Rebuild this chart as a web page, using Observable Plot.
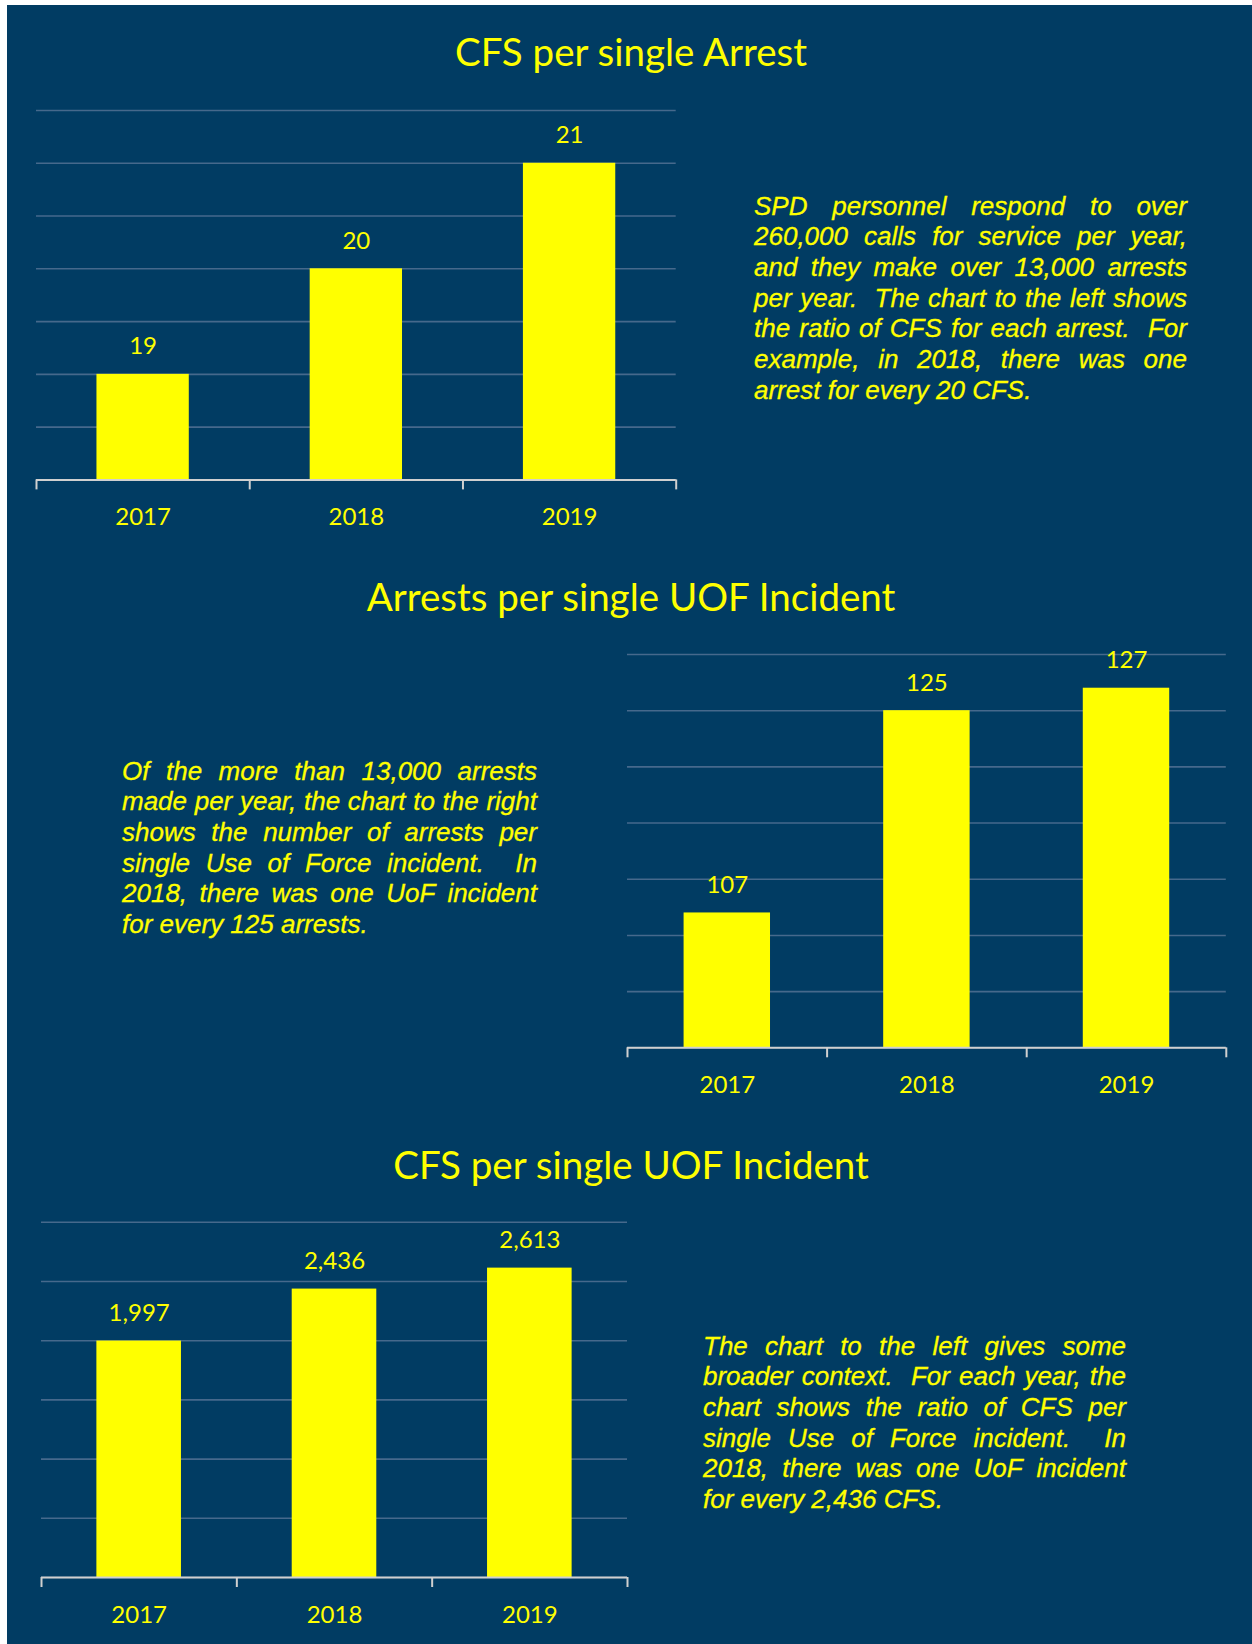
<!DOCTYPE html>
<html><head><meta charset="utf-8">
<script src="https://cdn.jsdelivr.net/npm/d3@7"></script>
<script src="https://cdn.jsdelivr.net/npm/@observablehq/plot@0.6"></script>
<style>
html,body{margin:0;padding:0;background:#ffffff;}
body{width:1252px;height:1644px;position:relative;overflow:hidden;}
#panel{position:absolute;left:7px;top:5px;width:1245px;height:1639px;background:#013c63;}
.title{position:absolute;left:10px;width:1242px;text-align:center;font-family:Lato,sans-serif;font-size:38.5px;line-height:38px;color:#ffff00;white-space:nowrap;}
.para{position:absolute;font-family:"Liberation Sans",Arial,sans-serif;font-style:italic;font-size:26px;line-height:30.7px;color:#ffff00;-webkit-text-stroke:0.3px #ffff00;}
.para div{text-align:justify;text-align-last:justify;}
.para div.last{text-align:left;text-align-last:left;}
.chart{position:absolute;}
</style>
</head><body>
<div id="panel"></div>
<div class="title" style="top:32px">CFS per single Arrest</div>
<div class="title" style="top:577px">Arrests per single UOF Incident</div>
<div class="title" style="top:1145px">CFS per single UOF Incident</div>
<div class="para" id="p1" style="left:754px;top:190.5px;width:433px"></div>
<div class="para" id="p2" style="left:122px;top:755.5px;width:415px"></div>
<div class="para" id="p3" style="left:703px;top:1330.5px;width:423px"></div>
<div class="chart" id="c1" style="left:0px;top:90px"></div>
<div class="chart" id="c2" style="left:600px;top:630px"></div>
<div class="chart" id="c3" style="left:0px;top:1200px"></div>
<script>
// ---- data ----
const years = ["2017", "2018", "2019"];
const cfsPerArrest = [19, 20, 21];
const arrestsPerUof = [107, 125, 127];
const cfsPerUof = [1997, 2436, 2613];
// value axis: [min, max, gridline step]
const cfsPerArrestAxis = [18, 21.5, 0.5];
const arrestsPerUofAxis = [95, 130, 5];
const cfsPerUofAxis = [0, 3000, 500];

const para1 = [
  "SPD personnel respond to over",
  "260,000 calls for service per year,",
  "and they make over 13,000 arrests",
  "per year.\u00a0 The chart to the left shows",
  "the ratio of CFS for each arrest.\u00a0 For",
  "example, in 2018, there was one",
  "arrest for every 20 CFS."
];
const para2 = [
  "Of the more than 13,000 arrests",
  "made per year, the chart to the right",
  "shows the number of arrests per",
  "single Use of Force incident.\u00a0 In",
  "2018, there was one UoF incident",
  "for every 125 arrests."
];
const para3 = [
  "The chart to the left gives some",
  "broader context.\u00a0 For each year, the",
  "chart shows the ratio of CFS per",
  "single Use of Force incident.\u00a0 In",
  "2018, there was one UoF incident",
  "for every 2,436 CFS."
];

const YELLOW = "#ffff00";
const GRID = "#46698c";
const AXIS = "#d0d0d0";
const fmt = d3.format(",");

function fillPara(id, lines) {
  const el = document.getElementById(id);
  lines.forEach((t, i) => {
    const d = document.createElement("div");
    d.textContent = t;
    if (i === lines.length - 1) d.className = "last";
    el.appendChild(d);
  });
}
fillPara("p1", para1);
fillPara("p2", para2);
fillPara("p3", para3);

function drawChart(id, values, axis, width, height, ml, mr, mt, mb) {
  const data = years.map((year, i) => ({year, i, value: values[i]}));
  const [lo, hi, step] = axis;
  const inner = width - ml - mr;
  const inset = inner / years.length * 0.2835;
  const plot = Plot.plot({
    width, height,
    marginLeft: ml, marginRight: mr, marginTop: mt, marginBottom: mb,
    style: {background: "transparent", fontFamily: "Lato, sans-serif", color: YELLOW, overflow: "visible"},
    x: {domain: [0, years.length], axis: null},
    y: {domain: [lo, hi], axis: null},
    marks: [
      Plot.gridY(d3.range(lo, hi + step / 2, step), {stroke: GRID, strokeOpacity: 1, strokeWidth: 1.6}),
      Plot.rectY(data, {x1: d => d.i, x2: d => d.i + 1, y1: () => lo, y2: "value", fill: YELLOW, insetLeft: inset, insetRight: inset}),
      Plot.ruleY([lo], {stroke: AXIS, strokeWidth: 2}),
      Plot.axisX(d3.range(0, years.length + 1), {tickSize: 10, tickFormat: () => "", stroke: AXIS, strokeWidth: 2, strokeOpacity: 1}),
      Plot.axisX(data.map(d => d.i + 0.5), {tickSize: 0, tickPadding: 28, tickFormat: v => years[Math.floor(v)], fontSize: 24, fill: YELLOW, color: YELLOW}),
      Plot.text(data, {x: d => d.i + 0.5, y: "value", text: d => fmt(d.value), dy: -20, lineAnchor: "bottom", fontSize: 24, fill: YELLOW})
    ]
  });
  document.getElementById(id).appendChild(plot);
}

drawChart("c1", cfsPerArrest, cfsPerArrestAxis, 700, 460, 36, 24.3, 20, 70.6);
drawChart("c2", arrestsPerUof, arrestsPerUofAxis, 652, 480, 27, 26.2, 24, 62.7);
drawChart("c3", cfsPerUof, cfsPerUofAxis, 660, 444, 41, 33, 21.8, 67);
</script>
</body></html>
